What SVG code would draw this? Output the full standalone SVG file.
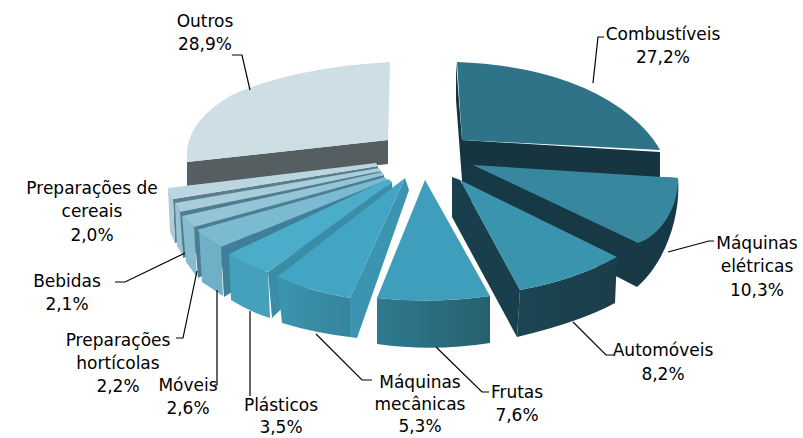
<svg xmlns="http://www.w3.org/2000/svg" width="803" height="438" viewBox="0 0 803 438">
<style>
text{font-family:"DejaVu Sans","Verdana",sans-serif;font-size:17px;fill:#000;text-anchor:middle}
.ld{fill:none;stroke:#000;stroke-width:1.2}
</style>
<defs>
<linearGradient id="gFr" x1="0" y1="0" x2="1" y2="0"><stop offset="0" stop-color="#2f7a8f"/><stop offset="1" stop-color="#26606f"/></linearGradient>
<linearGradient id="gMm" x1="0" y1="0" x2="1" y2="0"><stop offset="0" stop-color="#3c95ae"/><stop offset="1" stop-color="#34849c"/></linearGradient>
<linearGradient id="gAu" x1="0" y1="0" x2="1" y2="0"><stop offset="0" stop-color="#1c4553"/><stop offset="1" stop-color="#1a3d49"/></linearGradient>
</defs>
<rect width="803" height="438" fill="#fff"/>
<g id="outros">
<path d="M187,162 L388,140 L388,164 L187,186 Z" fill="#555e61"/>
<path d="M187,162 L187,150 Q190,120 230,96 Q290,68 390,62 L388,140 Z" fill="#cddee5"/>
<text x="205" y="27">Outros</text><text x="205" y="50">28,9%</text>
</g>
<g id="combustiveis">
<path d="M456,62 L462,140 L660,152 L660,178 L462,180 L456,100 Z" fill="#163540"/>
<path d="M457,62 Q560,66 620,108 Q648,128 660,150 L462,140 Z" fill="#2e7387"/>
<text x="663" y="40">Combustíveis</text><text x="663" y="63">27,2%</text>
</g>
<g id="maquinas-eletricas">
<path d="M462,166 L678,178 C681,215 666,262 637,287 L462,196 Z" fill="#173946"/>
<path d="M473,165 L678,178 C679,205 662,235 638,243 Z" fill="#37889f"/>
<text x="757" y="249">Máquinas</text><text x="757" y="272">elétricas</text><text x="757" y="296">10,3%</text>
</g>
<g id="preparacoes-cereais">
<path d="M173,199 L378,166 L378,180 L175,243 Z" fill="#587f8e"/>
<path d="M168,188 L173,199 L175,243 L170,232 Z" fill="#aecbd7"/>
<path d="M168,188 L376,163 L378,166 L173,199 Z" fill="#bcd6e1"/>
<text x="92" y="194">Preparações de</text><text x="92" y="217">cereais</text><text x="92" y="241">2,0%</text>
</g>
<g id="bebidas">
<path d="M180,212 L381,171 L381,185 L183,258 Z" fill="#4f7d8f"/>
<path d="M175,203 L180,212 L183,256 L177,246 Z" fill="#9cc3d3"/>
<path d="M175,203 L379,168 L381,171 L180,212 Z" fill="#a9cddb"/>
<text x="67" y="287">Bebidas</text><text x="67" y="310">2,1%</text>
</g>
<g id="preparacoes-horticolas">
<path d="M194,227 L384,175 L384,190 L198,278 Z" fill="#4a7f93"/>
<path d="M182,216 L194,227 L197,277 L186,262 Z" fill="#87bccf"/>
<path d="M182,216 L382,172 L384,175 L194,227 Z" fill="#94c5d7"/>
<text x="118" y="346">Preparações</text><text x="118" y="369">hortícolas</text><text x="118" y="392">2,2%</text>
</g>
<g id="moveis">
<path d="M221,247 L387,180 L387,195 L224,297 Z" fill="#3f8099"/>
<path d="M199,230 L221,247 L223,296 L202,282 Z" fill="#6fb0c7"/>
<path d="M197,230 L385,177 L387,180 L221,247 Z" fill="#7bbad0"/>
<text x="188" y="391">Móveis</text><text x="188" y="414">2,6%</text>
</g>
<g id="plasticos">
<path d="M268,272 L392,182 L393,200 L272,318 Z" fill="#3a8da7"/>
<path d="M229,254 Q248,266 268,272 L270,318 Q250,312 231,300 Z" fill="#45a0bc"/>
<path d="M229,254 L388,179 L392,182 L268,272 Q248,266 229,254 Z" fill="#4badca"/>
<text x="281" y="411">Plásticos</text><text x="281" y="433">3,5%</text>
</g>
<g id="maquinas-mecanicas">
<path d="M350,298 L405,178 L409,190 L357,338 L350,337 Z" fill="#3b94b0"/>
<path d="M277,277 Q312,292 350,298 L350,337 Q315,333 282,323 Z" fill="url(#gMm)"/>
<path d="M405,178 L277,277 Q312,292 350,298 Z" fill="#41a5c3"/>
<text x="420" y="388">Máquinas</text><text x="420" y="410">mecânicas</text><text x="420" y="432">5,3%</text>
</g>
<g id="automoveis">
<path d="M452,177 L460,180 L520,290 L517,337 L452,217 Z" fill="#1a3f4c"/>
<path d="M520,290 Q575,280 617,257 L615,303 Q580,322 517,337 Z" fill="url(#gAu)"/>
<path d="M460,180 L617,257 Q575,280 520,290 Z" fill="#3b94ad"/>
<text x="663" y="356">Automóveis</text><text x="663" y="380">8,2%</text>
</g>
<g id="frutas">
<path d="M377,298 Q433,304 490,296 L490,343 Q433,352 377,344 Z" fill="url(#gFr)"/>
<path d="M425,180 L377,298 Q433,304 490,296 Z" fill="#3e9ebb"/>
<text x="517" y="398">Frutas</text><text x="517" y="421">7,6%</text>
</g>
<g id="connectors">
<polyline class="ld" points="232,55 242,55 250,90"/>
<polyline class="ld" points="604,37 598,37 593,83"/>
<polyline class="ld" points="668,252 709,241 714,241"/>
<polyline class="ld" points="573,322 606,355 613,355"/>
<polyline class="ld" points="436,347 482,392 489,392"/>
<polyline class="ld" points="316,334 362,380 372,380"/>
<polyline class="ld" points="250,311 250,396"/>
<polyline class="ld" points="217,290 217,385 214,385"/>
<polyline class="ld" points="197,271 183,338 176,338"/>
<polyline class="ld" points="185,253 125,282 115,282"/>
</g>
</svg>
